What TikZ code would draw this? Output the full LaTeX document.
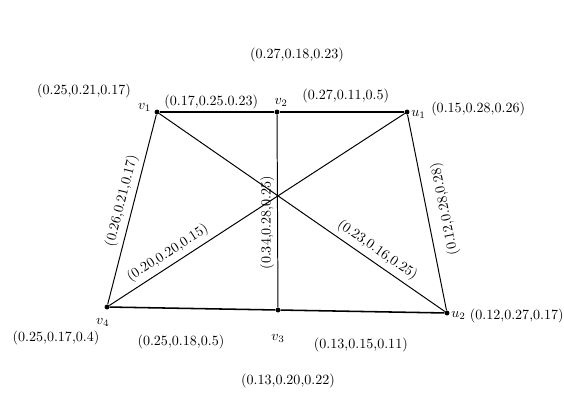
\documentclass[tikz,border=0pt]{standalone}
\usetikzlibrary{positioning}
\tikzset{
  vertex/.style={circle, fill=black, inner sep=0pt, minimum size=3.5pt},
  vname/.style={inner sep=1pt},
  weight/.style={inner sep=1.5pt},
  edge/.style={draw=black, line width=0.7pt},
  heavy/.style={draw=black, line width=1.1pt},
  elabel/.style={inner sep=2pt, outer sep=1.5pt, sloped}
}

\begin{document}
\begin{tikzpicture}[x=0.025cm, y=-0.025cm]
  \useasboundingbox (0,0) rectangle (564,408);

  % vertices
  \node[vertex] (v1) at (157,112) {};
  \node[vertex] (v2) at (277,112) {};
  \node[vertex] (u1) at (407,112) {};
  \node[vertex] (v4) at (107,307) {};
  \node[vertex] (v3) at (278,310) {};
  \node[vertex] (u2) at (447,313) {};

  % vertex names
  \node[vname, left=1pt of v1, yshift=3pt] (v1n) {$v_1$};
  \node[vname, above=1pt of v2, xshift=3pt] (v2n) {$v_2$};
  \node[vname, right=0pt of u1, yshift=-2pt] (u1n) {$u_1$};
  \node[vname, right=0pt of u2, yshift=-2pt] (u2n) {$u_2$};
  \node[vname, below=14pt of v3] (v3n) {$v_3$};
  \node[vname, below=5pt of v4, xshift=-3pt] (v4n) {$v_4$};

  % vertex values
  \node[weight] (v1w) at (84,91) {(0.25,0.21,0.17)};
  \node[weight] (v2w) at (297,55) {(0.27,0.18,0.23)};
  \node[weight, right=1pt of u1n, yshift=4pt] (u1w) {(0.15,0.28,0.26)};
  \node[weight, right=0pt of u2n] (u2w) {(0.12,0.27,0.17)};
  \node[weight] (v3w) at (288,381) {(0.13,0.20,0.22)};
  \node[weight] (v4w) at (56,338) {(0.25,0.17,0.4)};

  % edges
  \draw[heavy] (v1) -- node[weight, above, pos=.45] (e12) {(0.17,0.25.0.23)} (v2);
  \draw[heavy] (v2) -- node[weight, above=4pt, pos=.53] (e2u1) {(0.27,0.11,0.5)} (u1);
  \draw[heavy] (v4) -- node[weight, below=17pt, pos=.43] (e43) {(0.25,0.18,0.5)} (v3);
  \draw[heavy] (v3) -- node[weight, below=17pt, pos=.49] (e3u2) {(0.13,0.15,0.11)} (u2);
  \draw[edge] (v4) -- node[elabel, above, pos=.53] (e14) {(0.26,0.21,0.17)} (v1);
  \draw[edge] (v3) -- node[inner sep=2pt, rotate=90, anchor=south, pos=.44] (e23) {(0.34,0.28,0.25)} (v2);
  \draw[edge] (v4) -- node[elabel, above, pos=.22] (e4u1) {(0.20,0.20,0.15)} (u1);
  \draw[edge] (v1) -- node[elabel, above, pos=.74] (e1u2) {(0.23,0.16,0.25)} (u2);
  \draw[edge] (u2) -- node[inner sep=2pt, outer sep=6pt, rotate=101.3, anchor=north, pos=.5] (eu12) {(0.12,0.28,0.28)} (u1);
\end{tikzpicture}
\end{document}
